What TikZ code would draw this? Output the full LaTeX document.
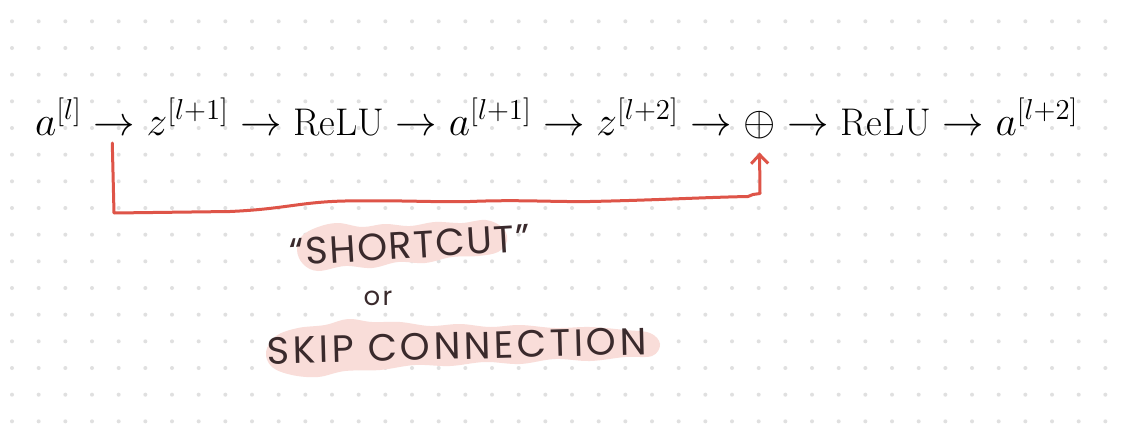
\documentclass[tikz,border=0pt]{standalone}
\usepackage{fontspec}
\usetikzlibrary{arrows.meta,calc}
\newfontfamily\hwfont[LetterSpace=9]{Poppins}
\newfontfamily\hwfontb[LetterSpace=4]{Poppins}
\definecolor{dotc}{RGB}{224,224,224}
\definecolor{redc}{RGB}{222,84,72}
\definecolor{hlc}{RGB}{249,221,217}
\definecolor{inkc}{RGB}{58,42,44}
\newlength\formw
\begin{document}
\begin{tikzpicture}[x=0.5pt,y=-0.5pt,
  every node/.style={inner sep=0pt,outer sep=0pt},
  mth/.style={anchor=base west,font=\mathfont},
  sc/.style={draw=redc,line width=1.5pt,line cap=round,line join=round,
    -{Straight Barb[length=4.5pt,width=8.5pt,line width=1.5pt]}},
  hw/.style={text=inkc,font=\hwfont\fontsize{19pt}{21pt}\selectfont},
  hl/.style={fill=hlc}]
\useasboundingbox[fill=white] (0,0) rectangle (1124,428);
% dot grid
\foreach \i in {0,...,41}{\foreach \j in {0,...,15}{
  \fill[dotc] (12+26.667*\i,21.333+26.667*\j) circle[radius=1pt];}}
% font size to match width
\settowidth\formw{$a^{[l]} \rightarrow z^{[l+1]} \rightarrow \mathrm{ReLU} \rightarrow a^{[l+1]} \rightarrow z^{[l+2]} \rightarrow \oplus \rightarrow \mathrm{ReLU} \rightarrow a^{[l+2]}$}
\pgfmathsetmacro\fsz{10*525/\formw}
\def\mathfont{\fontsize{\fsz pt}{\fsz pt}\selectfont}
% formula chain
\node[mth] (t1) at (35,135) {$a^{[l]}$};
\node[mth] (r1) at (t1.base east) {${}\rightarrow{}$};
\node[mth] (t2) at (r1.base east) {$z^{[l+1]}$};
\node[mth] (r2) at (t2.base east) {${}\rightarrow{}$};
\node[mth] (t3) at (r2.base east) {$\mathrm{ReLU}$};
\node[mth] (r3) at (t3.base east) {${}\rightarrow{}$};
\node[mth] (t4) at (r3.base east) {$a^{[l+1]}$};
\node[mth] (r4) at (t4.base east) {${}\rightarrow{}$};
\node[mth] (t5) at (r4.base east) {$z^{[l+2]}$};
\node[mth] (r5) at (t5.base east) {${}\rightarrow{}$};
\node[mth] (op) at (r5.base east) {$\oplus$};
\node[mth] (r6) at (op.base east) {${}\rightarrow{}$};
\node[mth] (t7) at (r6.base east) {$\mathrm{ReLU}$};
\node[mth] (r7) at (t7.base east) {${}\rightarrow{}$};
\node[mth] (t8) at (r7.base east) {$a^{[l+2]}$};
% highlights (brush strokes)
\fill[hl] plot[smooth cycle,tension=0.6] coordinates {(297,250) (302,236) (318,227) (338,223) (362,227) (385,224) (410,226) (435,222) (462,223) (486,220) (503,228) (507,241) (498,252) (478,256) (452,257) (425,263) (398,262) (372,268) (345,266) (318,271) (303,264)};
\fill[hl] plot[smooth cycle,tension=0.6] coordinates {(266,352) (276,336) (298,328) (325,325) (348,319) (372,322) (400,322) (430,326) (460,324) (490,327) (520,325) (555,328) (590,327) (625,330) (650,333) (660,344) (652,356) (625,357) (590,361) (555,359) (520,364) (485,362) (450,366) (415,365) (380,370) (345,371) (318,377) (292,375) (272,367)};
% handwritten labels
\node[hw,font=\hwfontb\fontsize{19pt}{21pt}\selectfont,rotate=3.4] (shortcut) at (410,245) {“SHORTCUT”};
\node[hw,font=\hwfont\fontsize{13pt}{15pt}\selectfont] (or) at (378,298) {or};
\node[hw,rotate=1.5] (skip) at (457,346) {SKIP CONNECTION};
% skip connection arrow
\draw[sc] ($(r1.south)+(-2,8)$) -- (114,213) -- (230,211.5)
  .. controls (285,209) and (300,202) .. (345,201)
  .. controls (400,200) and (440,202.5) .. (470,201.5)
  .. controls (520,199.5) and (550,202) .. (590,201.5)
  .. controls (660,200) and (700,197.5) .. (748,196.5)
  -- (753,194.5) -- (760,193.5) -- ($(op.south)+(0,14)$);
\end{tikzpicture}
\end{document}
